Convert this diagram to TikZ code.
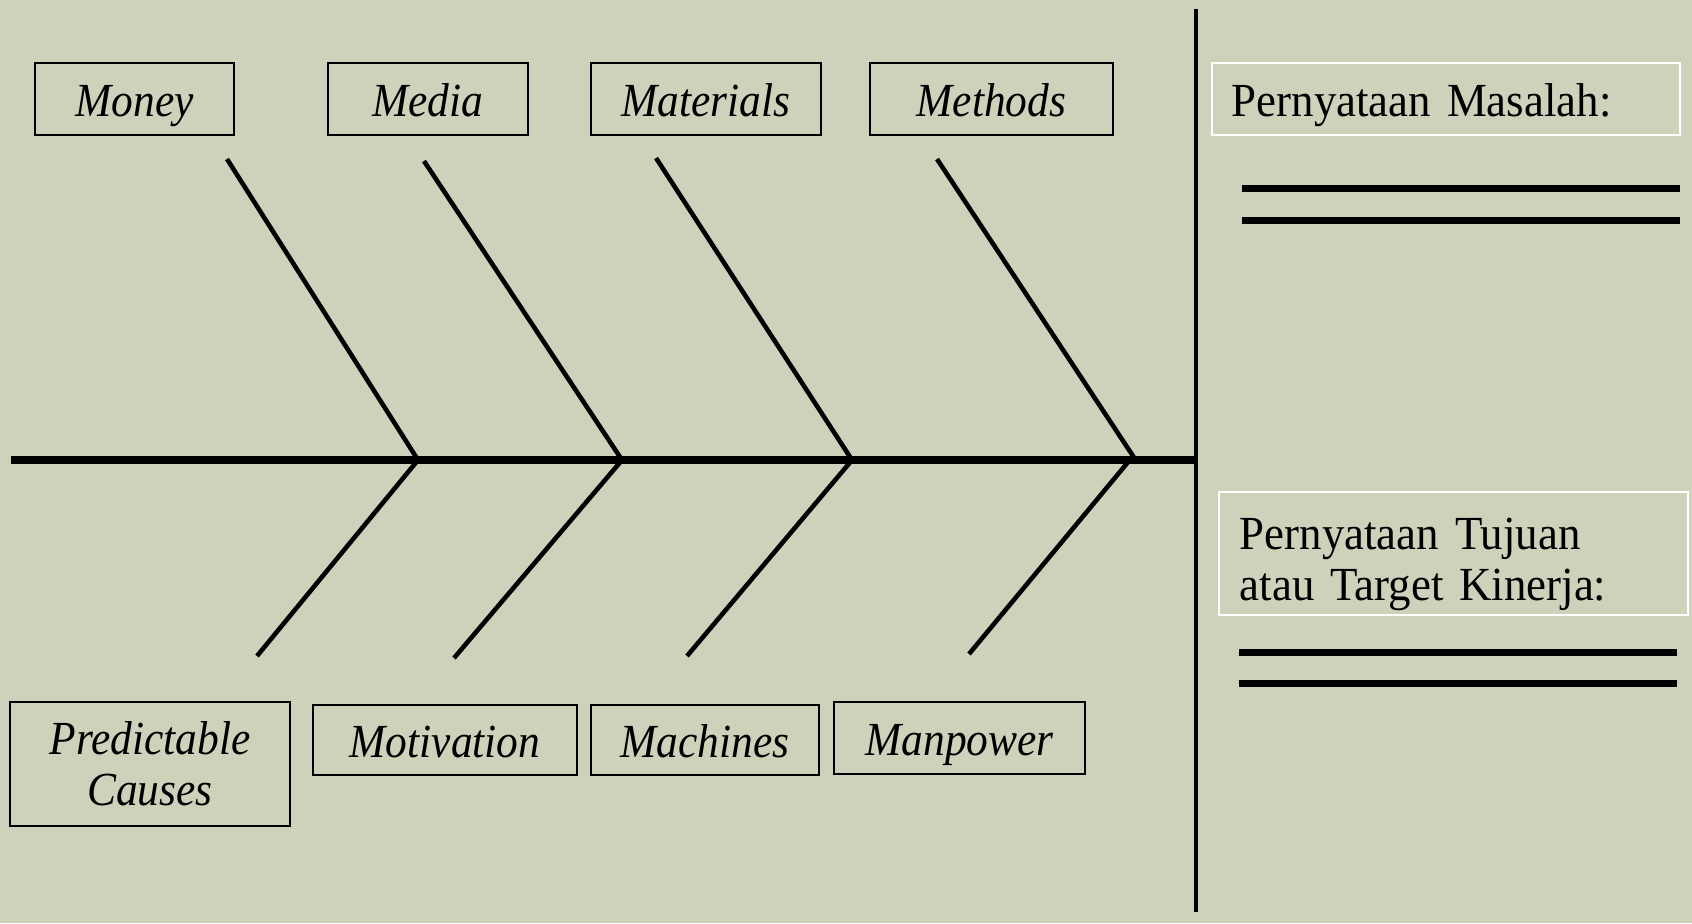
\documentclass[tikz,border=0pt]{standalone}
\usepackage{fontspec}
\setmainfont{Liberation Serif}[UprightFeatures={FakeStretch=0.945}, ItalicFeatures={FakeStretch=0.915}]
\usetikzlibrary{positioning}
\definecolor{sage}{RGB}{205,210,186}

\begin{document}
\begin{tikzpicture}[x=0.01cm, y=-0.01cm,
	causebox/.style={draw, line width=0.5pt, inner sep=0pt, align=center, font=\fontsize{13.5}{14.5}\selectfont\itshape},
	oneline/.style={text height=12pt, text depth=2pt},
	goalbox/.style={draw=white, line width=0.6pt, inner ysep=0pt, align=left, font=\fontsize{13.5}{14.5}\selectfont},
	bone/.style={line width=1.3pt},
	spine/.style={line width=2.1pt},
	blank/.style={line width=2pt}]
	\fill[sage] (0, 0) rectangle (1692, 923);
	\useasboundingbox (0, 0) rectangle (1692, 923);
	% fish spine and head bar
	\coordinate (tail) at (11, 460);
	\coordinate (head) at (1196, 460);
	\coordinate (bartop) at (1196, 9);
	\coordinate (barbot) at (1196, 912);
	\draw[spine] (tail)--(head);
	\draw[bone] (bartop)--(barbot);
	% joints on the spine
	\coordinate (j1) at (418, 460);
	\coordinate (j2) at (622, 460);
	\coordinate (j3) at (852, 460);
	\coordinate (j4) at (1133, 456);
	% upper bones
	\coordinate (u1) at (227, 159);
	\coordinate (u2) at (424, 161);
	\coordinate (u3) at (656, 158);
	\coordinate (u4) at (937, 159);
	% lower bones
	\coordinate (d1) at (257, 656);
	\coordinate (d2) at (454, 658);
	\coordinate (d3) at (687, 656);
	\coordinate (d4) at (969, 654);
	\draw[bone] (u1)--(j1)--(d1);
	\draw[bone] (u2)--(j2)--(d2);
	\draw[bone] (u3)--(j3)--(d3);
	\draw[bone] (u4)--(j4)--(d4);
	% cause boxes
	\node[causebox, oneline, minimum width = 1.99cm, minimum height = 0.72cm] (money) at (134.5, 99) {Money};
	\node[causebox, oneline, minimum width = 2.00cm, minimum height = 0.72cm] (media) at (428, 99) {Media};
	\node[causebox, oneline, minimum width = 2.30cm, minimum height = 0.72cm] (materials) at (706, 99) {Materials};
	\node[causebox, oneline, minimum width = 2.43cm, minimum height = 0.72cm] (methods) at (991.5, 99) {Methods};
	\node[causebox, minimum width = 2.80cm, minimum height = 1.24cm] (predictable) at (150, 764) {Predictable\\Causes};
	\node[causebox, oneline, minimum width = 2.64cm, minimum height = 0.70cm] (motivation) at (445, 740) {Motivation};
	\node[causebox, oneline, minimum width = 2.28cm, minimum height = 0.70cm] (machines) at (705, 740) {Machines};
	\node[causebox, oneline, minimum width = 2.51cm, minimum height = 0.72cm] (manpower) at (959.5, 738) {Manpower};
	% problem and goal statements
	\node[goalbox, oneline, inner xsep = 0.2cm, text width = 4.28cm, minimum height = 0.72cm] (problem) at (1446, 99) {Pernyataan Masalah:};
	\node[goalbox, inner xsep = 0.21cm, text width = 4.27cm, minimum height = 1.23cm] (goal) at (1453.5, 553.5) {\rule{0pt}{0.53cm}Pernyataan Tujuan\\atau Target Kinerja:};
	\coordinate (p1a) at (1242, 188);
	\coordinate (p1b) at (1680, 188);
	\coordinate (p2a) at (1242, 220);
	\coordinate (p2b) at (1680, 220);
	\draw[blank] (p1a)--(p1b);
	\draw[blank] (p2a)--(p2b);
	\coordinate (g1a) at (1239, 652);
	\coordinate (g1b) at (1677, 652);
	\coordinate (g2a) at (1239, 683);
	\coordinate (g2b) at (1677, 683);
	\draw[blank] (g1a)--(g1b);
	\draw[blank] (g2a)--(g2b);
\end{tikzpicture}
\end{document}
